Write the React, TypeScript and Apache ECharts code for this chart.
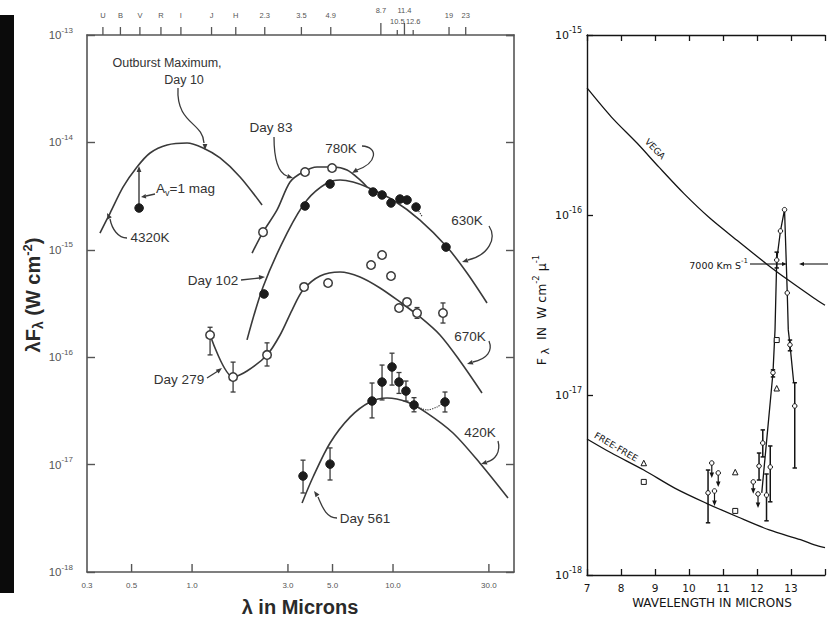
import React, { useEffect, useRef } from "react";
import * as echarts from "echarts";

// ---------------- Left panel: λFλ (W cm^-2) vs λ (microns) ----------------
const bandNames = ["U", "B", "V", "R", "I", "J", "H", "2.3", "3.5", "4.9", "8.7", "10.5", "11.4", "12.6", "19", "23"];
const bandWaves = [0.36, 0.44, 0.55, 0.7, 0.88, 1.25, 1.65, 2.3, 3.5, 4.9, 8.7, 10.5, 11.4, 12.6, 19, 23];
const bottomTickValues = [0.3, 0.5, 1, 3, 5, 10, 30];
const bottomTickLabels = ["0.3", "0.5", "1.0", "3.0", "5.0", "10.0", "30.0"];

// Day 10 (outburst maximum), 4320K
const day10Curve = [[0.348, 1.43e-15], [0.391, 2.2e-15], [0.454, 3.85e-15], [0.532, 5.9e-15], [0.618, 7.97e-15], [0.751, 9.46e-15], [0.944, 9.87e-15], [1.135, 8.87e-15], [1.378, 7.16e-15], [1.733, 4.77e-15], [2.23, 2.61e-15]];
const day10Obs = [[0.545, 2.45e-15]];
// Day 83, 780K
const day83Curve = [[1.989, 9.33e-16], [2.255, 1.46e-15], [2.648, 2.35e-15], [3.073, 4.28e-15], [3.566, 5.3e-15], [4.186, 5.9e-15], [5.029, 5.9e-15], [5.904, 5.53e-15], [6.852, 4.47e-15], [7.423, 3.84e-15]];
const day83Obs = [[2.255, 1.46e-15], [3.649, 5.3e-15], [4.973, 5.78e-15]];
// Day 102, 630K
const day102Curve = [[1.877, 1.45e-16], [2.255, 4.51e-16], [2.97, 1.43e-15], [3.734, 2.91e-15], [4.694, 4.19e-15], [5.449, 4.47e-15], [6.324, 4.28e-15], [7.423, 3.84e-15], [10.0, 2.91e-15], [13.62, 1.89e-15], [18.57, 1.06e-15], [23.35, 6.08e-16], [29.36, 3.2e-16]];
const day102Obs = [[2.281, 3.88e-16], [3.649, 2.56e-15], [4.86, 4.1e-15], [7.955, 3.45e-15], [8.818, 3.24e-15], [9.773, 2.73e-15], [10.83, 2.97e-15], [11.74, 2.91e-15], [13.02, 2.5e-15], [18.35, 1.06e-15]];
const day102Dotted = [[13.02, 2.5e-15], [13.93, 2.06e-15]];
// Day 279, 670K
const day279Curve = [[1.229, 1.61e-16], [1.6, 6.54e-17], [1.877, 7.44e-17], [2.361, 1.05e-16], [2.741, 1.61e-16], [3.145, 2.75e-16], [3.566, 4.22e-16], [4.335, 5.7e-16], [5.449, 6.21e-16], [6.852, 5.58e-16], [8.617, 4.41e-16], [10.83, 3.27e-16], [13.62, 2.37e-16], [17.13, 1.61e-16], [21.54, 9.22e-17], [27.72, 4.64e-17]];
const day279Obs = [[1.229, 1.61e-16, 1.05e-16, 1.9e-16], [1.6, 6.54e-17, 4.74e-17, 9.0e-17], [2.361, 1.05e-16, 8.28e-17, 1.36e-16], [3.608, 4.51e-16], [4.75, 4.91e-16], [7.774, 7.22e-16], [8.818, 8.95e-16], [9.773, 5.7e-16], [10.71, 2.87e-16], [11.74, 3.27e-16], [13.17, 2.58e-16, 2.3e-16, 2.9e-16], [17.73, 2.58e-16, 2.08e-16, 3.2e-16]];
// Day 561, 420K
const day561Curve = [[3.526, 4.39e-18], [4.0, 7.66e-18], [4.86, 1.59e-17], [6.111, 2.77e-17], [7.684, 3.83e-17], [9.335, 4.17e-17], [11.74, 3.83e-17], [14.77, 3.02e-17], [19.89, 1.97e-17], [27.09, 1.03e-17], [37.34, 4.89e-18]];
const day561Obs = [[3.566, 7.83e-18, 5.44e-18, 1.1e-17], [4.86, 1.01e-17, 7.19e-18, 1.43e-17], [7.863, 3.91e-17, 2.72e-17, 5.75e-17], [8.818, 5.87e-17, 4.0e-17, 8.45e-17], [9.886, 8.11e-17, 5.5e-17, 1.09e-16], [10.71, 5.87e-17, 4.6e-17, 7.2e-17], [11.6, 4.84e-17, 3.9e-17, 6.0e-17], [12.72, 3.59e-17, 3.1e-17, 4.2e-17], [18.14, 3.83e-17, 3.09e-17, 4.74e-17]];
const day561Dotted = [[12.72, 3.59e-17], [14.77, 3.23e-17], [16.55, 3.44e-17], [18.14, 3.83e-17]];

// ---------------- Right panel: Fλ (W cm^-2 μ^-1) vs wavelength ----------------
const vegaCurve = [[7, 5.08e-16], [7.72, 3.5e-16], [8.47, 2.51e-16], [9.11, 1.85e-16], [9.86, 1.31e-16], [10.61, 9.62e-17], [11.44, 7.17e-17], [12.28, 5.35e-17], [12.92, 4.35e-17], [13.67, 3.46e-17], [14, 3.15e-17]];
const freeFreeCurve = [[7, 5.7e-18], [7.72, 4.76e-18], [8.67, 3.83e-18], [9.58, 3.04e-18], [10.5, 2.51e-18], [11.44, 2.1e-18], [12.36, 1.78e-18], [13.28, 1.57e-18], [13.69, 1.47e-18], [14, 1.42e-18]];
const lineProfile = [[12.14, 2.86e-18], [12.47, 1.33e-17], [12.53, 2.3e-17], [12.58, 5.62e-17], [12.69, 8.15e-17], [12.81, 1.07e-16], [12.89, 3.69e-17], [12.92, 2.3e-17], [12.97, 1.9e-17], [13.08, 1.17e-17]];
const circlesR = [[12.81, 1.07e-16], [12.69, 8.15e-17], [12.89, 3.69e-17], [12.58, 5.62e-17, 5.08e-17, 6.22e-17], [12.97, 1.9e-17, 1.76e-17, 2.02e-17], [13.11, 8.69e-18, 3.93e-18, 1.17e-17], [12.47, 1.33e-17, 1.26e-17, 1.38e-17], [12.17, 5.41e-18, 4.53e-18, 6.4e-18], [12.06, 4.03e-18, 3.37e-18, 4.76e-18], [12.39, 3.98e-18, 2.55e-18, 5.21e-18], [12.28, 2.78e-18, 2.0e-18, 3.64e-18], [10.56, 2.86e-18, 1.95e-18, 3.83e-18]];
const upperLimitsR = [[11.89, 3.29e-18, 2.86e-18], [12.03, 2.82e-18, 2.39e-18], [10.67, 4.19e-18, 3.5e-18], [10.86, 3.69e-18, 3.12e-18], [10.75, 2.93e-18, 2.45e-18]];
const squaresR = [[12.58, 2.02e-17], [11.36, 2.27e-18], [8.67, 3.29e-18]];
const trianglesR = [[12.58, 1.09e-17], [11.36, 3.73e-18], [8.67, 4.19e-18]];

const INK_L = "#3a3a3a";
const TEXT_L = "#333333";
const AXIS_L = "#555555";
const INK_R = "#141414";
const FONT_L = '"Liberation Sans", Arial, sans-serif';
const FONT_R = '"DejaVu Sans", sans-serif';

const GL = { left: 87, top: 35, width: 427, height: 537 };
const GR = { left: 587, top: 35, width: 252, height: 540 };

const curve = (data: number[][], xi: number, yi: number, color: string, width: number, extra: any = {}) => ({
  type: "line", data, xAxisIndex: xi, yAxisIndex: yi, symbol: "none", showSymbol: false,
  smooth: 0.3, lineStyle: { color, width }, z: 2, silent: true, ...extra,
});

const dots = (data: number[][], xi: number, yi: number, symbol: string, size: number, fill: string, stroke: string, bw: number) => ({
  type: "scatter", data: data.map((d) => [d[0], d[1]]), xAxisIndex: xi, yAxisIndex: yi, symbol, symbolSize: size,
  itemStyle: { color: fill, borderColor: stroke, borderWidth: bw, opacity: 1 }, z: 5, silent: true,
});

const errBars = (data: number[][], xi: number, yi: number, cap: number, lw: number, color: string) => ({
  type: "custom", xAxisIndex: xi, yAxisIndex: yi, z: 3, silent: true,
  data: data.filter((d) => d.length >= 4),
  encode: { x: 0, y: [1, 2, 3] },
  renderItem: (_p: any, api: any) => {
    const x = api.value(0);
    const top = api.coord([x, api.value(3)]);
    const bot = api.coord([x, api.value(2)]);
    const st = { stroke: color, lineWidth: lw };
    return {
      type: "group",
      children: [
        { type: "line", shape: { x1: top[0], y1: top[1], x2: bot[0], y2: bot[1] }, style: st },
        { type: "line", shape: { x1: top[0] - cap, y1: top[1], x2: top[0] + cap, y2: top[1] }, style: st },
        { type: "line", shape: { x1: bot[0] - cap, y1: bot[1], x2: bot[0] + cap, y2: bot[1] }, style: st },
      ],
    };
  },
});

const limitArrows = (data: number[][], xi: number, yi: number, color: string) => ({
  type: "custom", xAxisIndex: xi, yAxisIndex: yi, z: 3, silent: true, data,
  encode: { x: 0, y: [1, 2] },
  renderItem: (_p: any, api: any) => {
    const x = api.value(0);
    const a = api.coord([x, api.value(1)]);
    const b = api.coord([x, api.value(2)]);
    return {
      type: "group",
      children: [
        { type: "line", shape: { x1: a[0], y1: a[1], x2: b[0], y2: b[1] - 3 }, style: { stroke: color, lineWidth: 1.2 } },
        { type: "polygon", shape: { points: [[b[0] - 2.3, b[1] - 4.5], [b[0] + 2.3, b[1] - 4.5], [b[0], b[1] + 1]] }, style: { fill: color } },
      ],
    };
  },
});

const arrowHead = (tx: number, ty: number, ang: number, color: string, len = 6, half = 2.4) => {
  const c = Math.cos(ang), s = Math.sin(ang);
  const bx = tx - c * len, by = ty - s * len;
  return {
    type: "polygon", silent: true,
    shape: { points: [[tx, ty], [bx - s * half, by + c * half], [bx + s * half, by - c * half]] },
    style: { fill: color },
  };
};
const bez = (x1: number, y1: number, c1x: number, c1y: number, c2x: number, c2y: number, x2: number, y2: number, color: string) => ({
  type: "bezierCurve", silent: true,
  shape: { x1, y1, cpx1: c1x, cpy1: c1y, cpx2: c2x, cpy2: c2y, x2, y2 },
  style: { stroke: color, lineWidth: 1.3, fill: "none" },
});
const seg = (x1: number, y1: number, x2: number, y2: number, color: string, lw = 1.3) => ({
  type: "line", silent: true, shape: { x1, y1, x2, y2 }, style: { stroke: color, lineWidth: lw },
});
const label = (text: string, x: number, y: number, size: number, align = "center", extra: any = {}) => ({
  type: "text", silent: true, x, y,
  style: { text, fontSize: size, fontFamily: FONT_L, fill: TEXT_L, align, verticalAlign: "middle", ...extra },
});

const expOf = (v: number) => Math.round(Math.log10(v));

export default function App() {
  const ref = useRef<HTMLDivElement>(null);
  useEffect(() => {
    if (!ref.current) return;
    const chart = echarts.init(ref.current, null, { renderer: "svg" });
    const richL = {
      b: { fontSize: 11.5, lineHeight: 18, fontFamily: FONT_L, color: AXIS_L },
      s: { fontSize: 8, lineHeight: 9, verticalAlign: "top", fontFamily: FONT_L, color: AXIS_L },
    };
    const richR = {
      b: { fontSize: 11, lineHeight: 18, fontFamily: FONT_R, color: INK_R },
      s: { fontSize: 8, lineHeight: 9, verticalAlign: "top", fontFamily: FONT_R, color: INK_R },
    };
    const lineL = { show: true, lineStyle: { color: AXIS_L, width: 1.6 } };
    const lineR = { show: true, lineStyle: { color: INK_R, width: 1.4 } };
    const option: any = {
      animation: false,
      backgroundColor: "#ffffff",
      grid: [
        { ...GL, containLabel: false },
        { ...GR, containLabel: false },
      ],
      xAxis: [
        { gridIndex: 0, type: "log", min: 0.3, max: 40, position: "bottom", axisLine: lineL, axisTick: { show: false }, axisLabel: { show: false }, splitLine: { show: false }, minorTick: { show: false } },
        { gridIndex: 0, type: "log", min: 0.3, max: 40, position: "top", axisLine: lineL, axisTick: { show: false }, axisLabel: { show: false }, splitLine: { show: false } },
        { gridIndex: 1, type: "value", min: 7, max: 14, interval: 1, position: "bottom", axisLine: lineR, axisTick: { inside: true, length: 6, lineStyle: { color: INK_R, width: 1.3 } }, axisLabel: { fontSize: 10.5, fontFamily: FONT_R, color: INK_R, margin: 7, formatter: (v: number) => (v >= 14 ? "" : String(v)) }, splitLine: { show: false } },
        { gridIndex: 1, type: "value", min: 7, max: 14, interval: 1, position: "top", axisLine: lineR, axisTick: { inside: true, length: 6, lineStyle: { color: INK_R, width: 1.3 } }, axisLabel: { show: false }, splitLine: { show: false } },
      ],
      yAxis: [
        { gridIndex: 0, type: "log", min: 1e-18, max: 1e-13, position: "left", axisLine: lineL, axisTick: { inside: true, length: 8, lineStyle: { color: AXIS_L, width: 1.4 } }, axisLabel: { margin: 14, formatter: (v: number) => `{b|10}{s|-${-expOf(v)}}`, rich: richL }, splitLine: { show: false }, minorTick: { show: false } },
        { gridIndex: 0, type: "log", min: 1e-18, max: 1e-13, position: "right", axisLine: lineL, axisTick: { inside: true, length: 8, lineStyle: { color: AXIS_L, width: 1.4 } }, axisLabel: { show: false }, splitLine: { show: false } },
        { gridIndex: 1, type: "log", min: 1e-18, max: 1e-15, position: "left", axisLine: lineR, axisTick: { inside: true, length: 6, lineStyle: { color: INK_R, width: 1.3 } }, axisLabel: { margin: 5, formatter: (v: number) => `{b|10}{s|-${-expOf(v)}}`, rich: richR }, splitLine: { show: false } },
      ],
      series: [
        curve(day10Curve, 0, 0, INK_L, 1.6),
        curve(day83Curve, 0, 0, INK_L, 1.6),
        curve(day102Curve, 0, 0, INK_L, 1.6),
        curve(day279Curve, 0, 0, INK_L, 1.6),
        curve(day561Curve, 0, 0, INK_L, 1.6),
        curve(day102Dotted, 0, 0, INK_L, 1.2, { smooth: false, lineStyle: { color: INK_L, width: 1.2, type: "dotted" } }),
        curve(day561Dotted, 0, 0, INK_L, 1.2, { lineStyle: { color: INK_L, width: 1.2, type: "dotted" } }),
        errBars(day279Obs, 0, 0, 2.5, 1.3, INK_L),
        errBars(day561Obs, 0, 0, 2.5, 1.3, INK_L),
        dots(day83Obs, 0, 0, "circle", 8.5, "#ffffff", INK_L, 1.5),
        dots(day279Obs, 0, 0, "circle", 8.5, "#ffffff", INK_L, 1.5),
        dots(day10Obs, 0, 0, "circle", 8.5, "#1c1c1c", "#1c1c1c", 1),
        dots(day102Obs, 0, 0, "circle", 8.5, "#1c1c1c", "#1c1c1c", 1),
        dots(day561Obs, 0, 0, "circle", 8.5, "#1c1c1c", "#1c1c1c", 1),
        // right panel
        curve(vegaCurve, 2, 2, INK_R, 1.3),
        curve(freeFreeCurve, 2, 2, INK_R, 1.3),
        curve(lineProfile, 2, 2, INK_R, 1.3, { smooth: false }),
        errBars(circlesR, 2, 2, 2.2, 1.5, INK_R),
        limitArrows(upperLimitsR, 2, 2, INK_R),
        dots(circlesR, 2, 2, "circle", 4.5, "#ffffff", INK_R, 1),
        dots(upperLimitsR, 2, 2, "circle", 4.5, "#ffffff", INK_R, 1),
        dots(squaresR, 2, 2, "rect", 5, "#ffffff", INK_R, 1),
        dots(trianglesR, 2, 2, "triangle", 5.5, "#ffffff", INK_R, 1),
      ],
    };
    chart.setOption(option);

    const pxL = (v: number) => chart.convertToPixel({ xAxisIndex: 0 }, v) as unknown as number;
    const g: any[] = [];
    // black scan border on the far left
    g.push({ type: "rect", silent: true, shape: { x: 0, y: 15, width: 14, height: 578 }, style: { fill: "#0b0b0b" } });
    // bottom ticks & labels of left panel
    const bottomY = GL.top + GL.height;
    bottomTickValues.forEach((v, i) => {
      const x = pxL(v);
      if (i > 0) g.push(seg(x, bottomY, x, bottomY - 8, AXIS_L, 1.4));
      g.push(label(bottomTickLabels[i], x, bottomY + 13, 8, "center", { fill: AXIS_L }));
    });
    // top photometric band ticks & labels
    const high = new Set(["8.7", "11.4"]);
    const low = new Set(["10.5", "12.6"]);
    bandWaves.forEach((v, i) => {
      const x = pxL(v);
      const name = bandNames[i];
      const len = high.has(name) ? 12 : low.has(name) ? 5 : 8;
      const ly = high.has(name) ? 10 : low.has(name) ? 21 : 15;
      g.push(seg(x, GL.top, x, GL.top - len, AXIS_L, 1.3));
      g.push(label(name, x, ly, 7.5, "center", { fill: AXIS_L }));
    });
    // axis titles left
    g.push({
      type: "text", silent: true, x: 300, y: 607,
      style: { text: "λ in Microns", fontSize: 20, fontWeight: "bold", fontFamily: FONT_L, fill: "#2a2a2a", align: "center", verticalAlign: "middle" },
    });
    g.push({
      type: "text", silent: true, x: 33, y: 295, rotation: Math.PI / 2,
      style: {
        text: "{a|λF}{b|λ}{a| (W cm}{c|-2}{a|)}", align: "center", verticalAlign: "middle",
        rich: {
          a: { fontSize: 20, fontWeight: "bold", fontFamily: FONT_L, fill: "#2a2a2a", lineHeight: 24 },
          b: { fontSize: 14, fontWeight: "bold", fontFamily: FONT_L, fill: "#2a2a2a", lineHeight: 14, verticalAlign: "bottom" },
          c: { fontSize: 13, fontWeight: "bold", fontFamily: FONT_L, fill: "#2a2a2a", lineHeight: 12, verticalAlign: "top" },
        },
      },
    });
    // left annotations
    g.push(label("Outburst Maximum,", 167, 63, 12.5));
    g.push(label("Day 10", 184, 80, 12.5));
    g.push(bez(178, 88, 176, 124, 203, 122, 204, 143, INK_L));
    g.push(arrowHead(205, 150, Math.PI / 2, INK_L));
    g.push(label("4320K", 150, 237, 13.5));
    g.push(bez(127, 238, 118, 238, 112, 229, 110, 219, INK_L));
    g.push(arrowHead(107, 213, -2.03, INK_L));
    g.push(seg(139, 206, 139, 172, INK_L, 1.4));
    g.push(arrowHead(139, 166, -Math.PI / 2, INK_L));
    g.push(seg(155, 194, 146, 196, INK_L, 1.3));
    g.push(arrowHead(141, 197, Math.PI - 0.15, INK_L, 5, 2.2));
    g.push({
      type: "text", silent: true, x: 156, y: 188,
      style: {
        text: "{a|A}{b|v}{a|=1 mag}", align: "left", verticalAlign: "middle",
        rich: {
          a: { fontSize: 13.5, fontFamily: FONT_L, fill: TEXT_L, lineHeight: 18 },
          b: { fontSize: 9, fontFamily: FONT_L, fill: TEXT_L, lineHeight: 10, verticalAlign: "bottom" },
        },
      },
    });
    g.push(label("Day 83", 271, 127, 13.5));
    g.push(bez(274, 137, 274, 162, 279, 173, 287, 176, INK_L));
    g.push(arrowHead(293, 178, 0.3, INK_L));
    g.push(label("780K", 341, 148, 13.5));
    g.push(bez(362, 146, 379, 147, 377, 163, 357, 170, INK_L));
    g.push(arrowHead(352, 173, 2.6, INK_L));
    g.push(label("Day 102", 213, 280, 13.5));
    g.push(seg(241, 280, 259, 278, INK_L));
    g.push(arrowHead(265, 277, -0.08, INK_L));
    g.push(label("630K", 467, 220, 13.5));
    g.push(bez(489, 226, 497, 238, 489, 255, 468, 260, INK_L));
    g.push(arrowHead(462, 262, Math.PI - 0.3, INK_L));
    g.push(label("Day 279", 179, 379, 13.5));
    g.push(seg(207, 378, 218, 371, INK_L));
    g.push(arrowHead(222, 368, -0.64, INK_L));
    g.push(label("670K", 470, 336, 13.5));
    g.push(bez(489, 341, 493, 351, 487, 359, 473, 362, INK_L));
    g.push(arrowHead(467, 364, Math.PI - 0.3, INK_L));
    g.push(label("420K", 480, 432, 13.5));
    g.push(bez(498, 441, 501, 452, 495, 460, 487, 462, INK_L));
    g.push(arrowHead(481, 464, Math.PI - 0.3, INK_L));
    g.push(label("Day 561", 365, 518, 13.5));
    g.push(bez(337, 518, 326, 518, 322, 506, 318, 497, INK_L));
    g.push(arrowHead(314, 491, -2.2, INK_L));

    // right panel titles & annotations
    g.push({
      type: "text", silent: true, x: 712, y: 603,
      style: { text: "WAVELENGTH IN MICRONS", fontSize: 12, fontFamily: FONT_R, fill: INK_R, align: "center", verticalAlign: "middle" },
    });
    g.push({
      type: "text", silent: true, x: 541, y: 310, rotation: Math.PI / 2,
      style: {
        text: "{a|F}{b| λ}{a|  IN  W cm}{c|-2}{a| μ}{c|-1}", align: "center", verticalAlign: "middle",
        rich: {
          a: { fontSize: 12.5, fontFamily: FONT_R, fill: INK_R, lineHeight: 20 },
          b: { fontSize: 11, fontFamily: FONT_R, fill: INK_R, lineHeight: 13, verticalAlign: "bottom" },
          c: { fontSize: 8.5, fontFamily: FONT_R, fill: INK_R, lineHeight: 9, verticalAlign: "top" },
        },
      },
    });
    g.push({
      type: "text", silent: true, x: 655, y: 149, rotation: -0.8,
      style: { text: "VEGA", fontSize: 9, fontFamily: FONT_R, fill: INK_R, align: "center", verticalAlign: "middle" },
    });
    g.push({
      type: "text", silent: true, x: 616, y: 447, rotation: -0.53,
      style: { text: "FREE-FREE", fontSize: 9, fontFamily: FONT_R, fill: INK_R, align: "center", verticalAlign: "middle" },
    });
    g.push({
      type: "text", silent: true, x: 748, y: 265,
      style: {
        text: "{a|7000 Km S}{c|-1}", align: "right", verticalAlign: "middle",
        rich: {
          a: { fontSize: 9.5, fontFamily: FONT_R, fill: INK_R, lineHeight: 16 },
          c: { fontSize: 7, fontFamily: FONT_R, fill: INK_R, lineHeight: 8, verticalAlign: "top" },
        },
      },
    });
    g.push(seg(750, 264, 782, 264, INK_R, 1.1));
    g.push(arrowHead(787, 264, 0, INK_R, 5, 2));
    g.push(seg(828, 264, 803, 264, INK_R, 1.1));
    g.push(arrowHead(799, 264, Math.PI, INK_R, 5, 2));

    chart.setOption({ graphic: { elements: g } });
    return () => chart.dispose();
  }, []);
  return <div ref={ref} style={{ position: "absolute", left: 0, top: 0, width: 828, height: 618, background: "#fff" }} />;
}
